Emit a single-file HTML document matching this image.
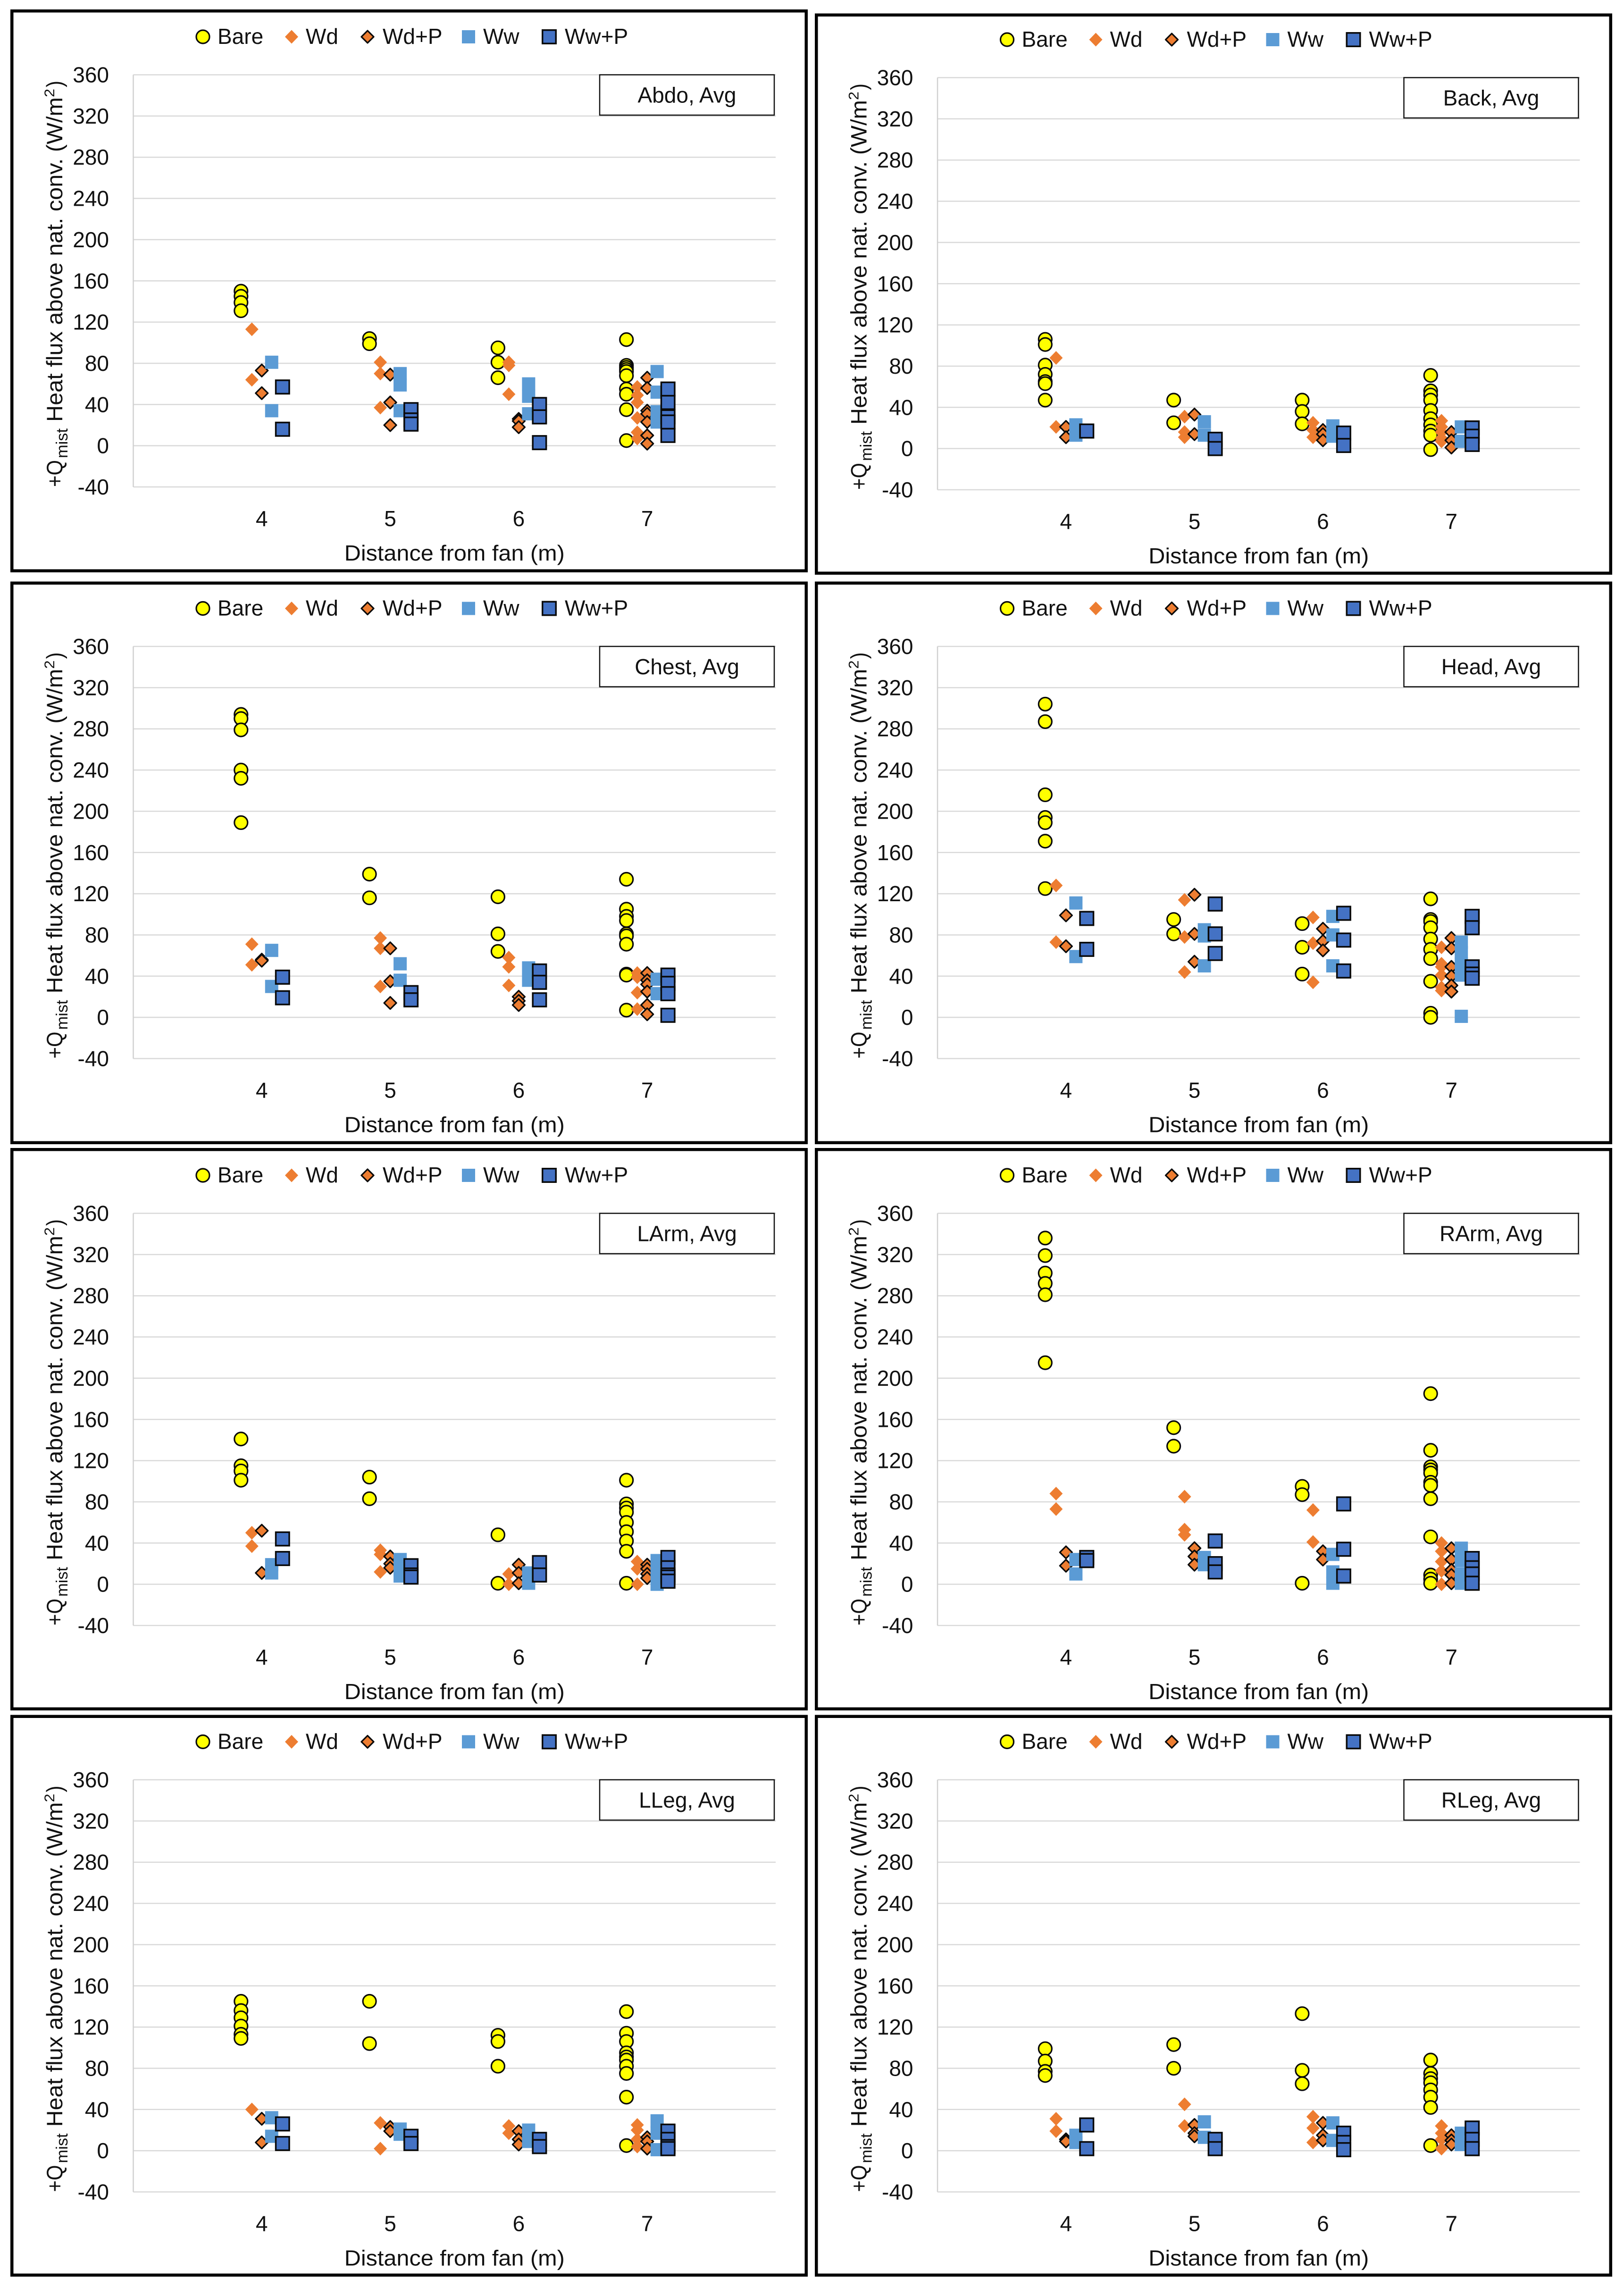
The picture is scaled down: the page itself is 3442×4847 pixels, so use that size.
<!DOCTYPE html>
<html lang="en">
<head>
<meta charset="utf-8">
<title>Heat flux above natural convection by distance from fan</title>
<style>
html,body{margin:0;padding:0;background:#fff;width:3442px;height:4847px;overflow:hidden}
svg{display:block}
text{font-family:"Liberation Sans",sans-serif;fill:#111}
</style>
</head>
<body>
<svg id="chart" xmlns="http://www.w3.org/2000/svg" width="3442" height="4847" viewBox="0 0 3442 4847"></svg>
<script>
// Shared axes
const categories = [4, 5, 6, 7];
const yTicks = [-40, 0, 40, 80, 120, 160, 200, 240, 280, 320, 360];
const seriesNames = ['Bare', 'Wd', 'Wd+P', 'Ww', 'Ww+P'];
const panelTitles = ['Abdo, Avg', 'Back, Avg', 'Chest, Avg', 'Head, Avg', 'LArm, Avg', 'RArm, Avg', 'LLeg, Avg', 'RLeg, Avg'];

// Values, one inner list per fan distance (4, 5, 6, 7 m)
const abdoBare = [[150,145,139,131],[104,99],[95,81,66],[103,78,76,74,72,68,55,50,35,5]];
const abdoWd = [[113,64],[81,70,37],[81,78,50],[57,49,42,27,13,7]];
const abdoWdP = [[73,51],[69,42,20],[26,24,18],[66,56,34,31,23,10,2]];
const abdoWw = [[81,34],[70,59,34],[60,48,31],[72,52,33,23]];
const abdoWwP = [[57,16],[35,25,21],[40,28,3],[55,42,28,23,10]];

const backBare = [[106,101,81,72,65,63,47],[47,25],[47,36,24],[71,56,52,47,37,29,23,17,13,-1]];
const backWd = [[88,21],[31,16,11],[25,18,11],[27,21,16,10,7]];
const backWdP = [[21,11],[33,14],[18,14,8],[16,8,1]];
const backWw = [[23,13],[26,13],[22,12],[21,7]];
const backWwP = [[17],[9,0],[15,3],[20,12,4]];

const chestBare = [[294,290,279,240,232,189],[139,116],[117,81,64],[134,105,98,94,81,79,71,42,41,7]];
const chestWd = [[71,51],[77,67,30],[58,49,31],[43,39,24,8]];
const chestWdP = [[56,55],[67,35,14],[20,16,12],[43,36,32,25,12,3]];
const chestWw = [[65,30],[52,36],[48,36],[37,23]];
const chestWwP = [[39,19],[24,17],[45,34,17],[41,33,23,2]];

const headBare = [[304,287,216,194,189,171,125],[95,81],[91,68,42],[115,95,93,87,76,66,57,35,4,0]];
const headWd = [[128,73],[114,78,44],[97,72,34],[68,52,49,41,29,26]];
const headWdP = [[99,69],[119,81,54],[86,74,65],[77,67,49,40,31,25]];
const headWw = [[111,59],[85,79,50],[98,80,50],[73,63,52,41,1]];
const headWwP = [[96,66],[110,81,62],[101,75,45],[98,87,49,42,38]];

const larmBare = [[141,115,110,101],[104,83],[48,1],[101,78,74,70,60,51,42,32,1]];
const larmWd = [[50,37],[33,29,12],[10,0],[22,15,0]];
const larmWdP = [[52,11],[27,20,16],[19,11,1],[19,15,10,6]];
const larmWw = [[19,11],[24,14,8],[11,1],[23,12,0]];
const larmWwP = [[44,25],[18,9,7],[21,9],[26,16,9,7,3]];

const rarmBare = [[336,319,302,292,281,215],[152,134],[95,87,1],[185,130,114,111,108,99,96,83,46,9,5,1]];
const rarmWd = [[88,73],[85,53,48],[72,41],[40,32,22,13,0]];
const rarmWdP = [[31,18],[35,27,19],[32,24],[35,24,14,9,1]];
const rarmWw = [[24,10],[26,19],[29,12,1],[35,23,10,1]];
const rarmWwP = [[26,23],[42,20,12],[78,34,8],[25,16,10,1]];

const llegBare = [[145,136,129,121,113,109],[145,104],[112,106,82],[135,114,106,95,91,88,82,75,52,5]];
const llegWd = [[40],[27,2],[24,17],[25,20,11,4]];
const llegWdP = [[31,8],[23,19],[19,11,6],[13,9,2]];
const llegWw = [[32,14],[21,16],[20,9],[29,17,1]];
const llegWwP = [[26,7],[14,7],[11,4],[19,11,4,2]];

const rlegBare = [[99,87,77,73],[103,80],[133,78,65],[88,75,70,66,59,52,42,5]];
const rlegWd = [[31,19],[45,24],[33,22,8],[24,17,11,2]];
const rlegWdP = [[11,9],[25,17,14],[27,15,10],[15,10,6]];
const rlegWw = [[15,8],[28,13],[27,10],[17,6]];
const rlegWwP = [[25,2],[11,2],[17,8,1],[22,11,2]];

const panelValues = [
  [abdoBare, abdoWd, abdoWdP, abdoWw, abdoWwP],
  [backBare, backWd, backWdP, backWw, backWwP],
  [chestBare, chestWd, chestWdP, chestWw, chestWwP],
  [headBare, headWd, headWdP, headWw, headWwP],
  [larmBare, larmWd, larmWdP, larmWw, larmWwP],
  [rarmBare, rarmWd, rarmWdP, rarmWw, rarmWwP],
  [llegBare, llegWd, llegWdP, llegWw, llegWwP],
  [rlegBare, rlegWd, rlegWdP, rlegWw, rlegWwP]
];

// Layout of the panel grid
const colLeft = [22, 1727];
const plotLeft = [282.5, 1987];
const frameTop = [20, 28.5, 1232.5, 1232.5, 2433, 2433, 3634.5, 3634.5];
const frameBottom = [1213, 1218, 2425, 2425, 3625, 3625, 4825, 4825];
const plotTopY = [158.5, 164.5, 1370, 1370, 2571.5, 2571.5, 3772, 3772];
const FRAME_W = 1690, PLOT_W = 1361.5, PLOT_H = 873.5;
const X_MIN = 3, X_MAX = 8, Y_MIN = -40, Y_MAX = 360;
const seriesOffset = [-44, -21, 0, 21, 44];
const legendMarkerX = [147.5, 335.5, 496.5, 710.5, 881.5];
const legendTextX = [178.5, 365.5, 528.5, 741.5, 914.5];

const svg = document.getElementById('chart');
const NS = 'http://www.w3.org/2000/svg';

function make(tag, attrs, parent) {
  const el = document.createElementNS(NS, tag);
  for (const k in attrs) el.setAttribute(k, attrs[k]);
  parent.appendChild(el);
  return el;
}

function drawMarker(kind, cx, cy, parent) {
  if (kind === 0) {
    return make('circle', {cx: cx, cy: cy, r: 14, fill: '#FFFF00', stroke: '#0a0a0a', 'stroke-width': 3.2}, parent);
  }
  if (kind === 1) {
    return make('polygon', {points: (cx-14)+','+cy+' '+cx+','+(cy-14.5)+' '+(cx+14)+','+cy+' '+cx+','+(cy+14.5), fill: '#ED7D31'}, parent);
  }
  if (kind === 2) {
    return make('polygon', {points: (cx-13)+','+cy+' '+cx+','+(cy-13)+' '+(cx+13)+','+cy+' '+cx+','+(cy+13), fill: '#ED7D31', stroke: '#0a0a0a', 'stroke-width': 3.2, 'stroke-linejoin': 'round'}, parent);
  }
  if (kind === 3) {
    return make('rect', {x: cx-14, y: cy-14, width: 28, height: 28, fill: '#5B9BD5'}, parent);
  }
  return make('rect', {x: cx-14.25, y: cy-14.25, width: 28.5, height: 28.5, fill: '#4472C4', stroke: '#0a0a0a', 'stroke-width': 3.5}, parent);
}

panelValues.forEach(function (series, p) {
  const col = p % 2;
  const left = plotLeft[col], top = plotTopY[p];
  const right = left + PLOT_W, bottom = top + PLOT_H;
  const xScale = function (v) { return left + (v - X_MIN) / (X_MAX - X_MIN) * PLOT_W; };
  const yScale = function (v) { return top + (Y_MAX - v) / (Y_MAX - Y_MIN) * PLOT_H; };

  const g = make('g', {}, svg);
  
  

  const frame = make('rect', {x: colLeft[col] + 3.25, y: frameTop[p] + 3.25, width: FRAME_W - 6.5, height: frameBottom[p] - frameTop[p] - 6.5, fill: '#fff', stroke: '#000', 'stroke-width': 6.5}, g);
  
  

  yTicks.forEach(function (t) {
    const line = make('line', {x1: left, x2: right, y1: yScale(t), y2: yScale(t), stroke: '#D9D9D9', 'stroke-width': 2.5}, g);
    
    
    const lab = make('text', {x: left - 51.5, y: yScale(t) + 16, 'text-anchor': 'end', 'font-size': 46}, g);
    lab.textContent = String(t);
    
    
  });

  const axis = make('line', {x1: left, x2: left, y1: top, y2: bottom, stroke: '#D0D0D0', 'stroke-width': 2.5}, g);
  
  

  categories.forEach(function (c) {
    const lab = make('text', {x: xScale(c), y: bottom + 83, 'text-anchor': 'middle', 'font-size': 46}, g);
    lab.textContent = String(c);
    
    
  });

  const xTitle = make('text', {x: left + PLOT_W / 2, y: bottom + 156, 'text-anchor': 'middle', 'font-size': 46, textLength: 467, lengthAdjust: 'spacingAndGlyphs'}, g);
  xTitle.textContent = 'Distance from fan (m)';
  
  

  // Y axis title pieces (rotated, read bottom to top)
  const base = left - 150.5;
  const yt = make('g', {}, g);
  
  
  const piece = function (str, px, py, size, len) {
    const t = make('text', {x: px, y: py, 'font-size': size, transform: 'rotate(-90 ' + px + ' ' + py + ')', textLength: len, lengthAdjust: 'spacingAndGlyphs'}, yt);
    t.textContent = str;
    return t;
  };
  piece('+Q', base, bottom, 47, 57);
  piece('mist', base + 11, bottom - 61, 34, 63);
  piece('Heat flux above nat. conv. (W/m', base, bottom - 138, 47, 688);
  piece('2', base - 17, bottom - 826, 30, 18);
  piece(')', base, bottom - 847, 47, 14);

  // Series
  series.forEach(function (byCategory, s) {
    const sg = make('g', {}, g);
    
    
    byCategory.forEach(function (vals, c) {
      vals.forEach(function (v) {
        const m = drawMarker(s, xScale(categories[c]) + seriesOffset[s], yScale(v), sg);
        
        
      });
    });
  });

  // Legend
  seriesNames.forEach(function (name, s) {
    const entry = make('g', {}, g);
    
    
    drawMarker(s, left + legendMarkerX[s], top - 80.5, entry);
    const t = make('text', {x: left + legendTextX[s], y: top - 65.5, 'font-size': 46}, entry);
    t.textContent = name;
  });

  // Panel label box
  const box = make('rect', {x: right - 373, y: top, width: 370, height: 85.5, fill: '#fff', stroke: '#111', 'stroke-width': 2.5}, g);
  
  
  const label = make('text', {x: right - 188, y: top + 59, 'text-anchor': 'middle', 'font-size': 46}, g);
  label.textContent = panelTitles[p];
  
  
});
</script>
</body>
</html>
